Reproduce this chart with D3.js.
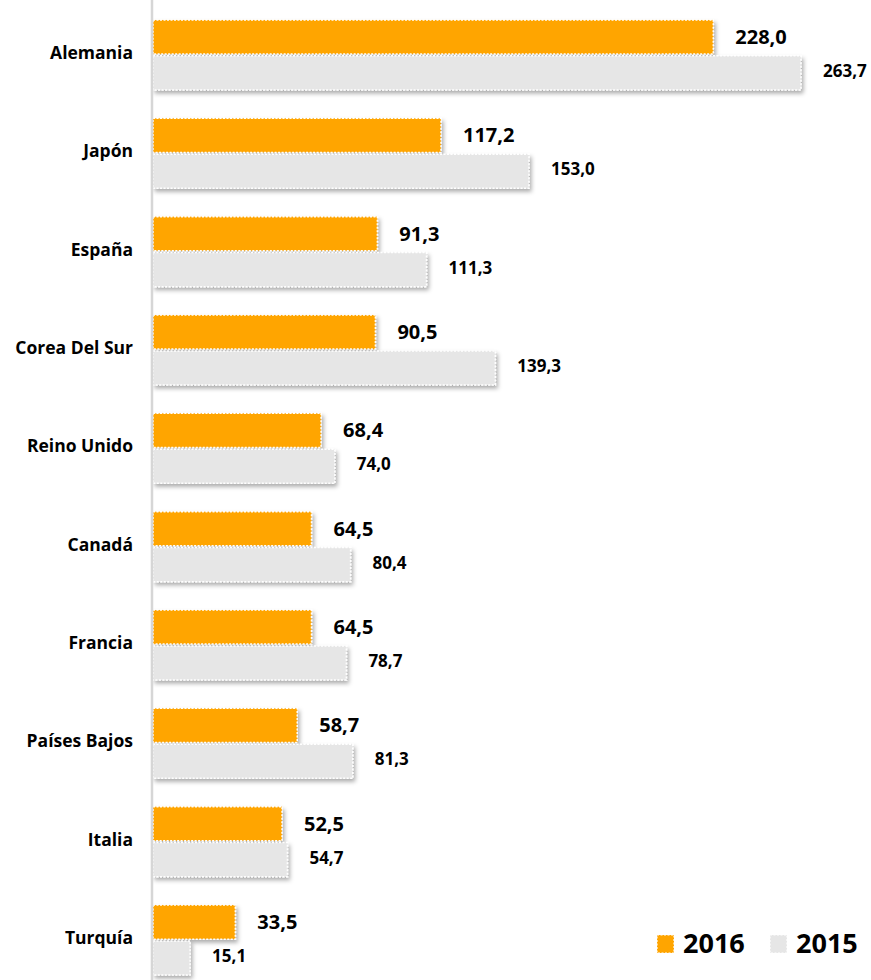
<!DOCTYPE html>
<html>
<head>
<meta charset="utf-8">
<script src="https://cdn.jsdelivr.net/npm/d3@7"></script>
<style>
  body { margin: 0; background: #fff; }
  svg { display: block; font-family: "Open Sans", Lato, sans-serif; font-weight: bold; }
</style>
</head>
<body>
<svg id="chart" width="871" height="980"></svg>
<script>

// data
const paises = ['Alemania', 'Japón', 'España', 'Corea Del Sur', 'Reino Unido', 'Canadá', 'Francia', 'Países Bajos', 'Italia', 'Turquía']
const v2016 = [228.0, 117.2, 91.3, 90.5, 68.4, 64.5, 64.5, 58.7, 52.5, 33.5]
const v2015 = [263.7, 153.0, 111.3, 139.3, 74.0, 80.4, 78.7, 81.3, 54.7, 15.1]
const series = ['2016', '2015']
const colores = ['#FFA500', '#E6E6E6']

const svg = d3.select('svg')

const fmt = v => d3.format('.1f')(v).replace('.', ',')

const x = d3.scaleLinear()
    .domain([0, 263.7])
    .range([153, 801])

const y = d3.scaleBand()
    .domain(paises)
    .range([0, 995])
    .paddingInner(0.288)
    .paddingOuter(0.203)

const ySub = d3.scaleBand()
    .domain(series)
    .range([0, y.bandwidth()])
    .paddingInner(0.05)

// drop shadow like the original
const defs = svg.append('defs')
defs.append('filter')
    .attr('id', 'sombra')
    .attr('x', '-10%').attr('y', '-20%')
    .attr('width', '130%').attr('height', '160%')
  .append('feDropShadow')
    .attr('dx', 2).attr('dy', 3)
    .attr('stdDeviation', 2.2)
    .attr('flood-color', '#000')
    .attr('flood-opacity', 0.33)

const rows = paises.map((p, i) => ({ pais: p, vals: [v2016[i], v2015[i]] }))

const g = svg.selectAll('g.row')
    .data(rows)
    .enter().append('g')
    .attr('class', 'row')
    .attr('transform', d => `translate(0, ${y(d.pais)})`)

g.selectAll('rect')
    .data(d => d.vals.map((v, k) => ({ v: v, s: series[k], k: k })))
    .enter().append('rect')
    .attr('x', x(0))
    .attr('y', d => ySub(d.s))
    .attr('width', d => x(d.v) - x(0))
    .attr('height', ySub.bandwidth())
    .attr('fill', d => colores[d.k])
    .attr('stroke', '#fff')
    .attr('stroke-width', 1.5)
    .attr('stroke-dasharray', '2,1.5')
    .attr('filter', 'url(#sombra)')

// value labels
g.selectAll('text.val')
    .data(d => d.vals.map((v, k) => ({ v: v, s: series[k], k: k })))
    .enter().append('text')
    .attr('class', 'val')
    .attr('x', d => x(d.v) + 22)
    .attr('y', d => ySub(d.s) + ySub.bandwidth() / 2 + (d.k == 1 ? -2 : 0))
    .attr('dy', '0.35em')
    .attr('font-size', d => d.k == 0 ? 20 : 17)
    .attr('fill', '#000')
    .text(d => fmt(d.v))

// category labels
g.append('text')
    .attr('x', 133)
    .attr('y', y.bandwidth() / 2 - 2)
    .attr('dy', '0.35em')
    .attr('text-anchor', 'end')
    .attr('font-size', 17.5)
    .attr('fill', '#000')
    .text(d => d.pais)

// axis line
svg.append('line')
    .attr('x1', x(0) - 1).attr('x2', x(0) - 1)
    .attr('y1', 0).attr('y2', 980)
    .attr('stroke', '#D6D6D6')
    .attr('stroke-width', 2.5)

// legend
const legX = [657, 770]
const leg = svg.selectAll('g.leg')
    .data(series)
    .enter().append('g')
    .attr('class', 'leg')
    .attr('transform', (d, i) => `translate(${legX[i]}, 944)`)

leg.append('rect')
    .attr('x', 0).attr('y', -9)
    .attr('width', 17).attr('height', 18)
    .attr('fill', (d, i) => colores[i])
    .attr('stroke', '#fff')
    .attr('stroke-width', 1.2)
    .attr('stroke-dasharray', '2,1.5')

leg.append('text')
    .attr('x', 26)
    .attr('y', 0)
    .attr('dy', '0.35em')
    .attr('font-size', 27)
    .attr('fill', '#000')
    .text(d => d)

</script>
</body>
</html>
